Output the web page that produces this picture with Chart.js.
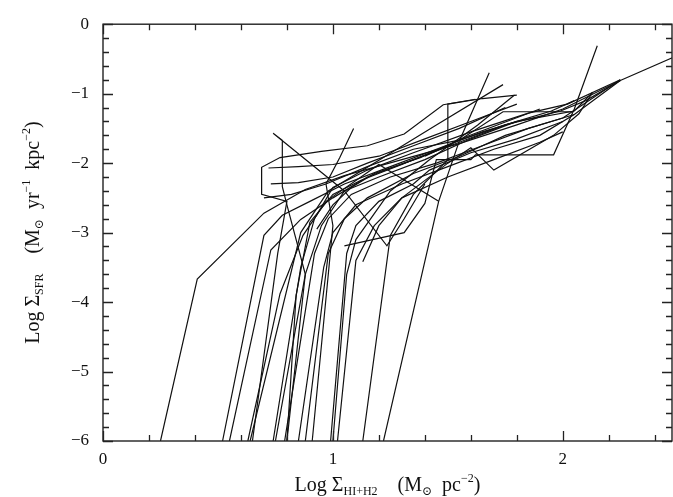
<!DOCTYPE html>
<html>
<head>
<meta charset="utf-8">
<script src="https://cdn.jsdelivr.net/npm/chart.js@4"></script>
<style>
  html, body { margin: 0; padding: 0; background: #fff; }
  #wrap { width: 673px; height: 497px; }
</style>
</head>
<body>
<div id="wrap"><canvas id="ksChart" width="673" height="497"></canvas></div>
<script>
// radial profiles, log gas surface density (x) vs log SFR surface density (y)
const logGas = [
    [0.25, 0.41, 0.70, 0.88, 1.05, 1.30, 1.55, 1.80, 2.00, 2.25, 2.50],
    [1.13, 1.25, 1.35, 1.50, 1.50, 1.65, 1.80],
    [1.22, 1.46, 1.55, 1.68],
    [0.52, 0.70, 0.78, 0.90, 1.05, 1.25, 1.45, 1.65, 1.80],
    [0.55, 0.73, 0.86, 1.00, 1.15, 1.35, 1.55, 1.75, 1.95, 2.05],
    [0.63, 0.77, 0.87, 0.97, 1.20, 1.46],
    [0.64, 0.86, 0.98, 1.20, 1.45, 1.74],
    [0.65, 0.76, 0.80, 0.69, 0.69, 0.77, 0.95, 1.15, 1.31, 1.48, 1.62],
    [0.74, 0.86, 0.92, 1.00, 1.15, 1.35, 1.60, 1.85, 2.02, 2.25],
    [0.75, 0.88, 0.95, 1.05, 1.20, 1.40, 1.60, 1.80, 2.05, 2.13],
    [0.79, 0.92, 0.98, 1.08, 1.25, 1.45, 1.65, 1.85, 2.00, 2.25],
    [0.85, 0.96, 1.00, 1.10, 1.30, 1.50, 1.70, 1.90, 2.05, 2.25],
    [0.88, 0.98, 1.05, 1.15, 1.35, 1.55, 1.75, 1.95, 2.05],
    [0.99, 1.06, 1.10, 1.20, 1.35, 1.42, 1.60, 1.80, 2.00],
    [0.80, 0.88, 0.80, 0.78, 0.78, 0.74, 1.05, 1.235, 1.31, 1.40],
    [0.91, 0.98, 1.00, 0.97, 1.03, 1.09],
    [1.02, 1.10, 1.18, 1.30, 1.50, 1.70, 1.90, 2.00],
    [1.00, 1.06, 1.10, 1.25, 1.42, 1.63, 1.79],
    [1.05, 1.31, 1.40, 1.45, 1.60, 1.62, 1.96, 2.05, 2.15],
    [1.13, 1.20, 1.30, 1.50, 1.60, 1.70, 1.96, 2.07, 2.13],
    [0.72, 0.85, 1.00, 1.20, 1.40, 1.60, 1.80],
    [0.73, 0.85, 1.00, 1.15, 1.35, 1.55, 1.75],
    [0.70, 0.82, 0.97, 1.15, 1.35, 1.55, 1.74, 2.04],
    [1.40, 1.55, 1.75, 1.99, 2.10, 2.25],
    [0.80, 0.84, 0.90, 1.00, 1.12, 1.30, 1.52],
    [0.93, 1.00, 1.08, 1.18, 1.38, 1.58, 1.90]
];
const logSfr = [
    [-6, -3.67, -2.72, -2.38, -2.18, -1.95, -1.72, -1.45, -1.22, -0.81, -0.45],
    [-6, -3.04, -2.45, -1.95, -1.15, -1.07, -1.02],
    [-6, -2.55, -1.68, -0.70],
    [-6, -3.04, -2.75, -2.55, -2.30, -2.05, -1.80, -1.55, -1.40],
    [-6, -3.25, -2.81, -2.50, -2.20, -1.95, -1.70, -1.45, -1.25, -1.10],
    [-6, -3.88, -3.04, -2.55, -2.02, -2.55],
    [-6, -3.00, -2.40, -1.96, -1.45, -0.87],
    [-6, -3.30, -2.55, -2.45, -2.06, -1.92, -1.83, -1.75, -1.58, -1.16, -1.08],
    [-6, -3.50, -2.80, -2.35, -2.10, -1.85, -1.55, -1.28, -1.15, -0.80],
    [-6, -3.60, -2.90, -2.40, -2.20, -1.95, -1.65, -1.40, -1.25, -0.98],
    [-6, -3.30, -2.80, -2.45, -2.20, -2.00, -1.75, -1.50, -1.35, -0.80],
    [-6, -3.50, -3.00, -2.60, -2.30, -2.05, -1.80, -1.60, -1.30, -0.81],
    [-6, -3.30, -2.80, -2.50, -2.15, -1.90, -1.60, -1.40, -1.30],
    [-6, -3.30, -2.90, -2.55, -2.30, -2.10, -1.85, -1.65, -1.40],
    [-6, -3.60, -2.60, -2.34, -1.67, -1.57, -2.40, -3.19, -2.80, -2.30],
    [-6, -3.60, -2.90, -2.30, -1.92, -1.50],
    [-6, -3.40, -2.90, -2.50, -2.20, -1.95, -1.70, -1.55],
    [-6, -3.60, -3.10, -2.40, -1.95, -1.45, -1.02],
    [-3.19, -3.00, -2.58, -1.95, -1.95, -1.88, -1.88, -1.22, -0.31],
    [-3.42, -2.90, -2.50, -2.00, -1.78, -2.10, -1.60, -1.29, -0.98],
    [-2.07, -2.05, -2.02, -1.90, -1.65, -1.40, -1.15],
    [-2.30, -2.28, -2.20, -2.00, -1.75, -1.50, -1.20],
    [-2.50, -2.45, -2.30, -2.05, -1.80, -1.67, -1.26, -1.26],
    [-1.90, -1.67, -1.45, -1.25, -1.10, -0.81],
    [-6, -3.90, -2.85, -2.45, -2.25, -2.02, -1.72],
    [-2.95, -2.60, -2.35, -2.15, -1.92, -1.62, -1.22]
];
const xTicks = [0, 1, 2];
const yTicks = [0, -1, -2, -3, -4, -5, -6];

const serif = '"Liberation Serif", "DejaVu Serif", serif';

function drawRich(ctx, parts, cx, baseY) {
    const big = '20px ' + serif, small = '12px ' + serif;
    let total = 0;
    parts.forEach(p => {
        ctx.font = p.k ? small : big;
        total += ctx.measureText(p.t).width;
    });
    let x = cx - total / 2;
    parts.forEach(p => {
        ctx.font = p.k ? small : big;
        const dy = p.k === 'sub' ? 4 : (p.k === 'sup' ? -9 : 0);
        ctx.fillText(p.t, x, baseY + dy);
        x += ctx.measureText(p.t).width;
    });
}

const frameAndTitles = {
    id: 'frameAndTitles',
    afterDraw(chart) {
        const ctx = chart.ctx, a = chart.chartArea;
        const xs = chart.scales.x, ys = chart.scales.y;
        ctx.save();
        ctx.strokeStyle = '#222';
        ctx.lineWidth = 1.4;
        ctx.strokeRect(a.left, a.top, a.right - a.left, a.bottom - a.top);
        // inward ticks, minor every 0.2
        ctx.lineWidth = 1.3;
        ctx.beginPath();
        for (let i = 0; i * 0.2 <= xs.max + 1e-9; i++) {
            const px = Math.round(xs.getPixelForValue(i * 0.2)) + 0.5;
            const len = i % 5 === 0 ? 10 : 6;
            ctx.moveTo(px, a.bottom); ctx.lineTo(px, a.bottom - len);
            ctx.moveTo(px, a.top); ctx.lineTo(px, a.top + len);
        }
        for (let i = 0; i <= 30; i++) {
            const py = Math.round(ys.getPixelForValue(-i * 0.2)) + 0.5;
            const len = i % 5 === 0 ? 10 : 6;
            ctx.moveTo(a.left, py); ctx.lineTo(a.left + len, py);
            ctx.moveTo(a.right, py); ctx.lineTo(a.right - len, py);
        }
        ctx.stroke();

        ctx.fillStyle = '#111';
        ctx.textAlign = 'left';
        ctx.textBaseline = 'alphabetic';
        drawRich(ctx, [
            {t: 'Log Σ'}, {t: 'HI+H2', k: 'sub'}, {t: '    (M'}, {t: '⊙', k: 'sub'},
            {t: '  pc'}, {t: '−2', k: 'sup'}, {t: ')'}
        ], (a.left + a.right) / 2, 491);
        ctx.translate(39, (a.top + a.bottom) / 2);
        ctx.rotate(-Math.PI / 2);
        drawRich(ctx, [
            {t: 'Log Σ'}, {t: 'SFR', k: 'sub'}, {t: '    (M'}, {t: '⊙', k: 'sub'},
            {t: '  yr'}, {t: '−1', k: 'sup'}, {t: '  kpc'}, {t: '−2', k: 'sup'}, {t: ')'}
        ], 0, 0);
        ctx.restore();
    }
};

const datasets = logGas.map((xs, i) => ({
    data: xs.map((x, j) => ({x: x, y: logSfr[i][j]})),
    showLine: true,
    borderColor: '#111',
    borderWidth: 1.2,
    pointRadius: 0,
    fill: false,
    tension: 0
}));

const fmt = v => (v < 0 ? '\u2212' : '') + Math.abs(v);

new Chart(document.getElementById('ksChart'), {
    type: 'scatter',
    data: { datasets: datasets },
    options: {
        responsive: false,
        animation: false,
        layout: { padding: { top: 13, right: 1, left: 0, bottom: 0 } },
        plugins: { legend: { display: false }, tooltip: { enabled: false } },
        scales: {
            x: {
                type: 'linear', min: 0, max: 2.475,
                afterBuildTicks: s => { s.ticks = xTicks.map(v => ({value: v})); },
                afterFit: s => { s.height = 56; },
                grid: { display: false, drawTicks: false },
                border: { display: false },
                ticks: { padding: 8, color: '#111', font: { family: serif, size: 17 }, callback: fmt }
            },
            y: {
                type: 'linear', min: -6, max: 0,
                afterBuildTicks: s => { s.ticks = yTicks.map(v => ({value: v})); },
                afterFit: s => { s.width = 103; },
                grid: { display: false, drawTicks: false },
                border: { display: false },
                ticks: { padding: 14, color: '#111', font: { family: serif, size: 17 }, callback: fmt }
            }
        }
    },
    plugins: [frameAndTitles]
});
</script>
</body>
</html>
